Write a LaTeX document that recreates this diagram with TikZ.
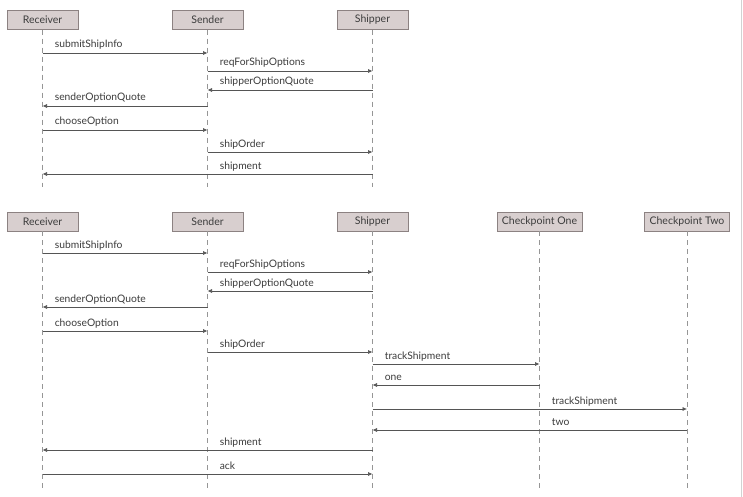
\documentclass[tikz,border=0pt]{standalone}
\usepackage{fontspec}
\setmainfont{Lato}
\usetikzlibrary{arrows.meta}

\definecolor{boxfill}{RGB}{216,207,207}
\definecolor{boxline}{RGB}{140,130,130}
\definecolor{lifeline}{RGB}{150,150,150}
\definecolor{msgline}{RGB}{85,85,85}
\definecolor{txt}{RGB}{60,60,60}

\begin{document}
\begin{tikzpicture}[x=1pt,y=-1pt,
    actor/.style={draw=boxline, fill=boxfill, minimum width=71pt, minimum height=19pt,
      inner sep=1pt, text=txt, font=\fontsize{10.5}{12}\selectfont},
    life/.style={draw=lifeline, dash pattern=on 5pt off 4pt, line width=0.6pt},
    msg/.style={draw=msgline, line width=0.6pt, -{Latex[length=4.5pt,width=4pt]}},
    lbl/.style={anchor=base west, xshift=12pt, yshift=5pt, inner sep=0pt,
      text=txt, font=\fontsize{10.3}{12}\selectfont}]
    \useasboundingbox (0,0) rectangle (743,497);
    \fill[white] (0,0) rectangle (743,497);
    \draw[gray!35, line width=1pt] (741,0) -- (741,497); % page edge

    % first exchange
    \node[actor] (R1) at (42.5,20) {Receiver};
    \node[actor] (S1) at (207.5,20) {Sender};
    \node[actor] (P1) at (372.5,20) {Shipper};
    \foreach \n in {R1,S1,P1}
      \draw[life] (\n.south) -- (\n |- 0,187);

    \draw[msg] (R1 |- 0,53) -- (S1 |- 0,53) node[lbl, at start] {submitShipInfo};
    \draw[msg] (S1 |- 0,71) -- (P1 |- 0,71) node[lbl, at start] {reqForShipOptions};
    \draw[msg] (P1 |- 0,90) -- (S1 |- 0,90) node[lbl, at end] {shipperOptionQuote};
    \draw[msg] (S1 |- 0,106) -- (R1 |- 0,106) node[lbl, at end] {senderOptionQuote};
    \draw[msg] (R1 |- 0,130) -- (S1 |- 0,130) node[lbl, at start] {chooseOption};
    \draw[msg] (S1 |- 0,152) -- (P1 |- 0,152) node[lbl, at start] {shipOrder};
    \draw[msg] (P1 |- 0,174) -- (R1 |- 0,174) node[lbl, at end, xshift=165pt] {shipment};

    % second exchange, with checkpoints
    \node[actor] (R2) at (42.5,221.5) {Receiver};
    \node[actor] (S2) at (207.5,221.5) {Sender};
    \node[actor] (P2) at (372.5,221.5) {Shipper};
    \node[actor, minimum width=85pt] (C1) at (539.5,221.5) {Checkpoint One};
    \node[actor, minimum width=85pt] (C2) at (687,221.5) {Checkpoint Two};
    \foreach \n in {R2,S2,P2,C1,C2}
      \draw[life] (\n.south) -- (\n |- 0,490);

    \draw[msg] (R2 |- 0,253) -- (S2 |- 0,253) node[lbl, at start] {submitShipInfo};
    \draw[msg] (S2 |- 0,272) -- (P2 |- 0,272) node[lbl, at start] {reqForShipOptions};
    \draw[msg] (P2 |- 0,291) -- (S2 |- 0,291) node[lbl, at end] {shipperOptionQuote};
    \draw[msg] (S2 |- 0,307) -- (R2 |- 0,307) node[lbl, at end] {senderOptionQuote};
    \draw[msg] (R2 |- 0,331) -- (S2 |- 0,331) node[lbl, at start] {chooseOption};
    \draw[msg] (S2 |- 0,352) -- (P2 |- 0,352) node[lbl, at start] {shipOrder};
    \draw[msg] (P2 |- 0,364) -- (C1 |- 0,364) node[lbl, at start] {trackShipment};
    \draw[msg] (C1 |- 0,385) -- (P2 |- 0,385) node[lbl, at end] {one};
    \draw[msg] (P2 |- 0,409) -- (C2 |- 0,409) node[lbl, at start, xshift=167pt] {trackShipment};
    \draw[msg] (C2 |- 0,430) -- (P2 |- 0,430) node[lbl, at end, xshift=167pt] {two};
    \draw[msg] (P2 |- 0,450) -- (R2 |- 0,450) node[lbl, at end, xshift=165pt] {shipment};
    \draw[msg] (R2 |- 0,474) -- (P2 |- 0,474) node[lbl, at start, xshift=165pt] {ack};
\end{tikzpicture}
\end{document}
